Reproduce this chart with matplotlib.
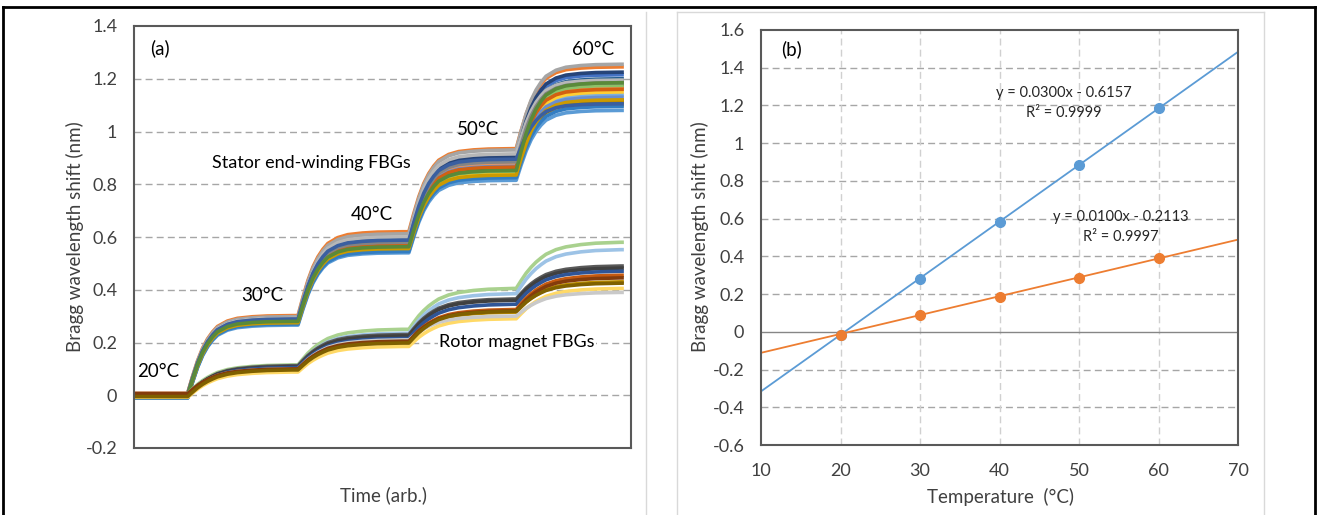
import numpy as np
import matplotlib.pyplot as plt
from matplotlib.lines import Line2D

plt.rcParams['font.family'] = ['Lato', 'DejaVu Sans']

# ---------------- panel (a): wavelength shift vs time ----------------
# time axis is arbitrary, 0..100 across the plot box
step_start = [10.8, 33.0, 55.3, 76.9]   # start of each temperature step
t_end = 98.2

# shape of one step response (fraction of the step done vs time after start)
rise_dt = [0, 1, 2, 3, 4, 5, 6, 8, 10, 13, 16, 21]
stator_frac = [0, 0.22, 0.42, 0.58, 0.70, 0.79, 0.86, 0.93, 0.965, 0.985, 0.995, 1.0]
rotor_frac = [0, 0.17, 0.33, 0.46, 0.57, 0.66, 0.74, 0.84, 0.90, 0.95, 0.98, 1.0]

# stator end-winding FBGs: plateau level at 20/30/40/50/60 degC
stator_colors = ['#5B9BD5', '#ED7D31', '#A5A5A5', '#FFC000', '#4472C4', '#70AD47',
                 '#255E91', '#9E480E', '#636363', '#997300', '#264478', '#43682B',
                 '#7CAFDD', '#F1975A', '#B7B7B7', '#FFCD33', '#698ED0', '#8CC168',
                 '#327DC2', '#D26012', '#848484', '#CC9A00', '#3A5FA0', '#5A8A39']
stator_20 = [-0.010, 0.008, 0.005, -0.005, 0.000, -0.008, 0.002, -0.004, 0.004, -0.006,
             0.003, -0.002, -0.009, 0.006, 0.007, -0.003, 0.001, -0.007, -0.011, 0.002,
             0.004, -0.005, 0.000, -0.001]
stator_30 = [0.266, 0.302, 0.298, 0.278, 0.290, 0.280, 0.285, 0.283, 0.288, 0.276,
             0.292, 0.281, 0.274, 0.286, 0.293, 0.277, 0.284, 0.279, 0.270, 0.282,
             0.287, 0.275, 0.289, 0.280]
stator_40 = [0.540, 0.620, 0.612, 0.560, 0.590, 0.555, 0.575, 0.570, 0.585, 0.562,
             0.595, 0.565, 0.552, 0.575, 0.600, 0.558, 0.572, 0.560, 0.545, 0.568,
             0.580, 0.556, 0.588, 0.563]
stator_50 = [0.815, 0.935, 0.930, 0.830, 0.900, 0.860, 0.880, 0.870, 0.890, 0.845,
             0.905, 0.855, 0.838, 0.875, 0.915, 0.842, 0.868, 0.850, 0.825, 0.865,
             0.885, 0.835, 0.895, 0.852]
stator_60 = [1.080, 1.245, 1.255, 1.100, 1.215, 1.180, 1.200, 1.120, 1.190, 1.110,
             1.225, 1.170, 1.140, 1.165, 1.195, 1.150, 1.130, 1.175, 1.095, 1.160,
             1.185, 1.120, 1.105, 1.185]

# rotor magnet FBGs
rotor_colors = ['#A9D18E', '#9DC3E6', '#595959', '#404040', '#2F5597', '#C55A11',
                '#BF9000', '#FFD966', '#C9C9C9', '#843C0C', '#7F6000']
rotor_20 = [0.005, 0.000, -0.004, 0.002, -0.006, 0.004, -0.002, -0.008, 0.003, 0.006, -0.005]
rotor_30 = [0.115, 0.110, 0.112, 0.108, 0.105, 0.098, 0.095, 0.088, 0.100, 0.100, 0.096]
rotor_40 = [0.250, 0.235, 0.230, 0.225, 0.215, 0.205, 0.200, 0.185, 0.210, 0.205, 0.198]
rotor_50 = [0.405, 0.385, 0.365, 0.360, 0.345, 0.325, 0.315, 0.290, 0.300, 0.320, 0.318]
rotor_60 = [0.580, 0.552, 0.490, 0.482, 0.470, 0.455, 0.430, 0.405, 0.390, 0.445, 0.425]

# ---------------- panel (b): shift vs temperature ----------------
temps = [20, 30, 40, 50, 60]
stator_mean = [-0.015, 0.280, 0.580, 0.885, 1.185]
rotor_mean = [-0.015, 0.090, 0.185, 0.285, 0.390]
fit_stator = (0.0300, -0.6157)
fit_rotor = (0.0100, -0.2113)
fit_x = [10, 70]

blue = '#5B9BD5'
orange = '#ED7D31'


def trace(levels, frac):
    t = [0.0]
    y = [levels[0]]
    for k, t0 in enumerate(step_start):
        for dt, f in zip(rise_dt, frac):
            t.append(t0 + dt)
            y.append(levels[k] + (levels[k + 1] - levels[k]) * f)
    t.append(t_end)
    y.append(levels[-1])
    return t, y


fig = plt.figure(figsize=(13.18, 5.15), dpi=100)

# page / table borders
fig.add_artist(Line2D([3 / 1318, 1315 / 1318], [1 - 7 / 515, 1 - 7 / 515], color='black', lw=2))
fig.add_artist(Line2D([3 / 1318, 3 / 1318], [0, 1 - 7 / 515], color='black', lw=2))
fig.add_artist(Line2D([1315 / 1318, 1315 / 1318], [0, 1 - 7 / 515], color='black', lw=2))
for xp in [646, 677, 1264]:
    fig.add_artist(Line2D([xp / 1318, xp / 1318], [0, 1 - 12 / 515], color='#D9D9D9', lw=1))
fig.add_artist(Line2D([677 / 1318, 1264 / 1318], [1 - 12 / 515, 1 - 12 / 515], color='#D9D9D9', lw=1))

# ---- (a)
ax1 = fig.add_axes([134 / 1318, 1 - 448 / 515, 497 / 1318, 422 / 515])
for i, c in enumerate(stator_colors):
    t, y = trace([stator_20[i], stator_30[i], stator_40[i], stator_50[i], stator_60[i]], stator_frac)
    ax1.plot(t, y, color=c, lw=2.6, solid_joinstyle='round')
for i, c in enumerate(rotor_colors):
    t, y = trace([rotor_20[i], rotor_30[i], rotor_40[i], rotor_50[i], rotor_60[i]], rotor_frac)
    ax1.plot(t, y, color=c, lw=2.6, solid_joinstyle='round')

ax1.set_xlim(0, 100)
ax1.set_ylim(-0.2, 1.4)
yt1 = [-0.2, 0, 0.2, 0.4, 0.6, 0.8, 1.0, 1.2, 1.4]
ax1.set_yticks(yt1)
ax1.set_yticklabels(['-0.2', '0', '0.2', '0.4', '0.6', '0.8', '1', '1.2', '1.4'])
ax1.set_xticks([])
for v in yt1[1:-1]:
    ax1.axhline(v, color='#A6A6A6', lw=1, ls=(0, (5, 3)), zorder=0)
ax1.tick_params(axis='y', length=0, pad=12, labelsize=13, labelcolor='#404040')
for s in ax1.spines.values():
    s.set_color('#595959')
    s.set_linewidth(1.5)

ax1.text(0.032, 0.948, '(a)', transform=ax1.transAxes, fontsize=13.5, va='center', ha='left')
ax1.text(4.8, 0.091, '20°C', fontsize=13.5, ha='center', va='center')
ax1.text(25.8, 0.378, '30°C', fontsize=13.5, ha='center', va='center')
ax1.text(47.9, 0.687, '40°C', fontsize=13.5, ha='center', va='center')
ax1.text(69.2, 1.006, '50°C', fontsize=13.5, ha='center', va='center')
ax1.text(92.3, 1.312, '60°C', fontsize=13.5, ha='center', va='center')
ax1.text(35.6, 0.879, 'Stator end-winding FBGs', fontsize=13, ha='center', va='center',
         bbox=dict(facecolor='white', edgecolor='none', pad=1))
ax1.text(77.1, 0.202, 'Rotor magnet FBGs', fontsize=13, ha='center', va='center',
         bbox=dict(facecolor='white', edgecolor='none', pad=1))

fig.text(75 / 1318, 1 - 237 / 515, 'Bragg wavelength shift (nm)', rotation=90,
         ha='center', va='center', fontsize=13.5, color='#404040')
fig.text(383 / 1318, 1 - 495 / 515, 'Time (arb.)', ha='center', va='center',
         fontsize=13.5, color='#404040')

# ---- (b)
ax2 = fig.add_axes([761 / 1318, 1 - 445 / 515, 477 / 1318, 415 / 515])
ax2.set_xlim(10, 70)
ax2.set_ylim(-0.6, 1.6)
yt2 = [-0.6, -0.4, -0.2, 0, 0.2, 0.4, 0.6, 0.8, 1.0, 1.2, 1.4, 1.6]
ax2.set_yticks(yt2)
ax2.set_yticklabels(['-0.6', '-0.4', '-0.2', '0', '0.2', '0.4', '0.6', '0.8', '1',
                     '1.2', '1.4', '1.6'])
ax2.set_xticks([10, 20, 30, 40, 50, 60, 70])
for v in yt2[1:-1]:
    if v == 0:
        ax2.axhline(0, color='#868686', lw=1, zorder=1)
    else:
        ax2.axhline(v, color='#A6A6A6', lw=1, ls=(0, (5, 3)), zorder=0)
for v in [20, 30, 40, 50, 60]:
    ax2.axvline(v, color='#D0D0D0', lw=1, ls=(0, (5, 3)), zorder=0)

fx = np.array(fit_x)
ax2.plot(fx, fit_stator[0] * fx + fit_stator[1], color=blue, lw=1.3, zorder=2)
ax2.plot(fx, fit_rotor[0] * fx + fit_rotor[1], color=orange, lw=1.3, zorder=2)
ax2.plot(temps, stator_mean, 'o', color=blue, ms=7, zorder=3)
ax2.plot(temps, rotor_mean, 'o', color=orange, ms=7, zorder=3)

ax2.tick_params(length=0, labelsize=13, labelcolor='#404040')
ax2.tick_params(axis='y', pad=12)
ax2.tick_params(axis='x', pad=13)
for s in ax2.spines.values():
    s.set_color('#595959')
    s.set_linewidth(1.5)

ax2.text(0.043, 0.953, '(b)', transform=ax2.transAxes, fontsize=13.5, va='center', ha='left')
ax2.text(48.1, 1.268, 'y = 0.0300x - 0.6157', fontsize=10.5, ha='center', va='center', color='#262626')
ax2.text(48.1, 1.161, 'R² = 0.9999', fontsize=10.5, ha='center', va='center', color='#262626')
ax2.text(55.3, 0.607, 'y = 0.0100x - 0.2113', fontsize=10.5, ha='center', va='center', color='#262626')
ax2.text(55.3, 0.504, 'R² = 0.9997', fontsize=10.5, ha='center', va='center', color='#262626')

fig.text(700 / 1318, 1 - 237 / 515, 'Bragg wavelength shift (nm)', rotation=90,
         ha='center', va='center', fontsize=13.5, color='#404040')
fig.text(1000 / 1318, 1 - 497 / 515, 'Temperature  (°C)', ha='center', va='center',
         fontsize=13.5, color='#404040')

fig.savefig('out.png', dpi=100)
